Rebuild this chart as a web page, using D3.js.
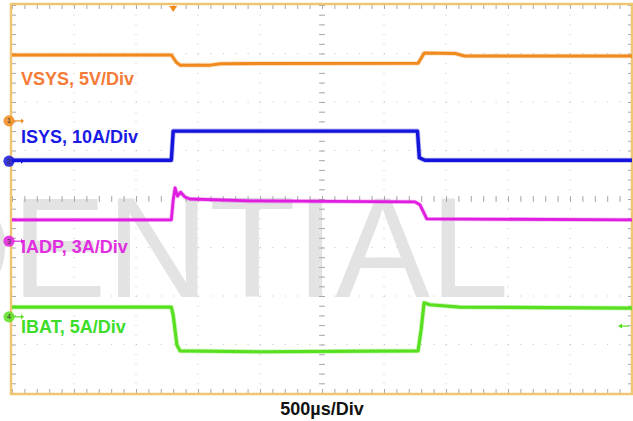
<!DOCTYPE html>
<html>
<head>
<meta charset="utf-8">
<script src="https://cdn.jsdelivr.net/npm/d3@7/dist/d3.min.js"></script>
<style>
html,body{margin:0;padding:0;background:#fff;}
svg{display:block;}
</style>
</head>
<body>
<svg id="chart" width="633" height="421"></svg>
<script>
// ---- data (time in µs, values in screen divisions, 0 = centre line) ----
const channelNames = ["VSYS", "ISYS", "IADP", "IBAT"];
const channelLabels = ["VSYS, 5V/Div", "ISYS, 10A/Div", "IADP, 3A/Div", "IBAT, 5A/Div"];
const timeLabel = "500µs/Div";
const watermark = "CONFIDENTIAL";

const vsysTime = [-2500, -1215, -1175, -1145, -900, -820, 775, 825, 1075, 1150, 2500];
const vsysDiv  = [2.97, 2.97, 2.82, 2.76, 2.76, 2.79, 2.80, 3.01, 3.00, 2.95, 2.95];

const isysTime = [-2500, -1215, -1200, 770, 785, 830, 2500];
const isysDiv  = [0.80, 0.80, 1.40, 1.40, 0.85, 0.80, 0.80];

const iadpTime = [-2500, -1215, -1200, -1185, -1165, -1140, -1105, -1065, -580, 750, 790, 845, 2500];
const iadpDiv  = [-0.43, -0.43, -0.02, 0.23, 0.06, 0.14, 0.04, 0.00, -0.04, -0.06, -0.12, -0.41, -0.43];

const ibatTime = [-2500, -1215, -1200, -1170, -1145, -500, 775, 800, 823, 870, 1110, 2500];
const ibatDiv  = [-2.23, -2.23, -2.40, -3.01, -3.13, -3.15, -3.13, -2.68, -2.14, -2.18, -2.23, -2.25];

const groundMarkers = [1.61, 0.78, -0.87, -2.43];   // channel reference levels (div)
const labelLevels   = [2.35, 1.15, -1.12, -2.77];   // label baselines (div)
const triggerTime = -1200;
const triggerLevel = -2.62;

// ---- styles ----
const traceColors = ["#f18a1e", "#1414dc", "#e01ee0", "#58e020"];
const labelColors = ["#f47b38", "#1a1ae6", "#e02ee0", "#3ddd2a"];
const traceWidths = [3, 3.4, 2.8, 3.2];

const svg = d3.select("#chart");
const pL = 12, pR = 632, pT = 5, pB = 393;

const x = d3.scaleLinear().domain([-2500, 2500]).range([pL, pR]);
const y = d3.scaleLinear().domain([-4, 4]).range([pB, pT]);

const majorX = d3.range(-2500, 2501, 500);
const majorY = d3.range(-4, 4.001, 1);
const minorX = d3.range(-2500, 2501, 100);
const minorY = d3.range(-4, 4.001, 0.2);

// dotted grid
const grid = svg.append("g");
grid.selectAll(".gx").data(majorX.slice(1, -1)).join("line")
  .attr("x1", d => x(d)).attr("x2", d => x(d)).attr("y1", pT).attr("y2", pB)
  .attr("stroke", "#c4c4c4").attr("stroke-width", 1)
  .attr("stroke-dasharray", "1," + (y(0) - y(0.2) - 1));
grid.selectAll(".gy").data(majorY.slice(1, -1)).join("line")
  .attr("y1", d => y(d)).attr("y2", d => y(d)).attr("x1", pL).attr("x2", pR)
  .attr("stroke", "#c4c4c4").attr("stroke-width", 1)
  .attr("stroke-dasharray", "1," + (x(100) - x(0) - 1));

// watermark
svg.append("text")
  .attr("x", 509).attr("y", 297)
  .attr("text-anchor", "end")
  .attr("font-family", "Liberation Sans, Arial, sans-serif")
  .attr("font-size", 142)
  .attr("fill", "#e3e3e3")
  .text(watermark);

// ticks on edges and centre lines via d3 axes
function styleAxis(g) {
  g.select(".domain").remove();
  g.selectAll("text").remove();
  g.selectAll("line").attr("stroke", "#a8a8a8").attr("stroke-width", 1);
}
svg.append("g").attr("transform", `translate(0,${pT})`)
  .call(d3.axisBottom(x).tickValues(minorX).tickSize(4)).call(styleAxis);
svg.append("g").attr("transform", `translate(0,${pB})`)
  .call(d3.axisTop(x).tickValues(minorX).tickSize(4)).call(styleAxis);
svg.append("g").attr("transform", `translate(${pL},0)`)
  .call(d3.axisRight(y).tickValues(minorY).tickSize(4)).call(styleAxis);
svg.append("g").attr("transform", `translate(${pR},0)`)
  .call(d3.axisLeft(y).tickValues(minorY).tickSize(4)).call(styleAxis);
svg.append("g").attr("transform", `translate(${x(0) - 3},0)`)
  .call(d3.axisRight(y).tickValues(minorY).tickSize(6)).call(styleAxis);
svg.append("g").attr("transform", `translate(0,${y(0) - 3})`)
  .call(d3.axisBottom(x).tickValues(minorX).tickSize(6)).call(styleAxis);

// border
svg.append("rect")
  .attr("x", pL - 1).attr("y", pT - 1)
  .attr("width", pR - pL + 1).attr("height", pB - pT + 2)
  .attr("fill", "none").attr("stroke", "#f0c674").attr("stroke-width", 2.5);

// traces
const series = [
  [vsysTime, vsysDiv], [isysTime, isysDiv], [iadpTime, iadpDiv], [ibatTime, ibatDiv]
];
const line = d3.line().x(d => x(d[0])).y(d => y(d[1]));
series.forEach((s, i) => {
  const pts = s[0].map((t, k) => [t, s[1][k]]);
  svg.append("path").datum(pts)
    .attr("d", line).attr("fill", "none")
    .attr("stroke", traceColors[i]).attr("stroke-opacity", 0.3)
    .attr("stroke-width", traceWidths[i] + 1.6).attr("stroke-linejoin", "round");
  svg.append("path").datum(pts)
    .attr("d", line).attr("fill", "none")
    .attr("stroke", traceColors[i])
    .attr("stroke-width", traceWidths[i]).attr("stroke-linejoin", "round");
});

// channel labels
svg.selectAll(".lbl").data(channelLabels).join("text")
  .attr("x", 21).attr("y", (d, i) => y(labelLevels[i]))
  .attr("font-family", "Liberation Sans, Arial, sans-serif")
  .attr("font-weight", "bold").attr("font-size", 18)
  .attr("fill", (d, i) => labelColors[i])
  .text(d => d);

// ground markers
const gm = svg.selectAll(".gm").data(groundMarkers).join("g")
  .attr("transform", d => `translate(9,${y(d)})`);
gm.append("line").attr("x1", 4).attr("x2", 12).attr("y1", 0).attr("y2", 0)
  .attr("stroke", (d, i) => traceColors[i]).attr("stroke-width", 1.2);
gm.append("path").attr("d", "M12,-2.5 L15,0 L12,2.5 Z")
  .attr("fill", (d, i) => traceColors[i]);
gm.append("circle").attr("r", 5.6)
  .attr("fill", (d, i) => traceColors[i]).attr("fill-opacity", 0.85);
gm.append("text").attr("text-anchor", "middle").attr("dy", 2.5)
  .attr("font-family", "Liberation Sans, Arial, sans-serif")
  .attr("font-size", 7).attr("fill", "#333")
  .text((d, i) => i + 1);

// trigger position marker (top) and trigger level marker (right)
svg.append("path")
  .attr("d", `M${x(triggerTime) - 4},${pT + 1} L${x(triggerTime) + 4},${pT + 1} L${x(triggerTime)},${pT + 7} Z`)
  .attr("fill", traceColors[0]);
const ty = y(triggerLevel);
svg.append("line").attr("x1", pR - 12).attr("x2", pR - 3).attr("y1", ty).attr("y2", ty)
  .attr("stroke", traceColors[3]).attr("stroke-width", 1.2);
svg.append("path").attr("d", `M${pR - 14},${ty} L${pR - 10},${ty - 2.5} L${pR - 10},${ty + 2.5} Z`)
  .attr("fill", traceColors[3]);

// time base label
svg.append("text")
  .attr("x", x(0)).attr("y", 415)
  .attr("text-anchor", "middle")
  .attr("font-family", "Liberation Sans, Arial, sans-serif")
  .attr("font-weight", "bold").attr("font-size", 18)
  .attr("fill", "#111")
  .text(timeLabel);
</script>
</body>
</html>
